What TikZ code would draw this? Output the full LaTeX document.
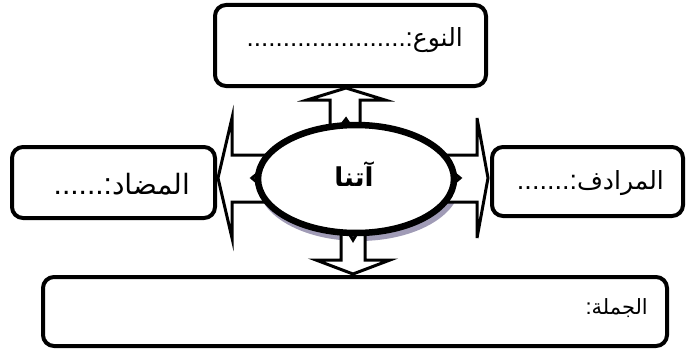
\documentclass[tikz,border=0pt]{standalone}
\usepackage{fontspec}
\usetikzlibrary{shapes.geometric}
\TeXXeTstate=1
\newfontfamily\arabicfont[Script=Arabic]{DejaVu Sans}
\newfontfamily\dotsfont{Liberation Sans}
\newcommand{\ardots}[2]{{\dotsfont\fontsize{#1}{30}\selectfont #2}}
\definecolor{shadowc}{RGB}{160,155,182}
\begin{document}
\begin{tikzpicture}[x=1pt,y=-1pt,
  box/.style={draw,rectangle,line width=4pt,rounded corners=11pt,fill=white,inner sep=0pt},
  blockarrow/.style={draw,line width=3pt,fill=white,line join=miter},
  lbl/.style={inner sep=0pt,anchor=east,font=\arabicfont\fontsize{25}{30}\selectfont},
  biglbl/.style={lbl,font=\arabicfont\fontsize{28}{32}\selectfont},
  smalllbl/.style={lbl,font=\arabicfont\fontsize{21}{26}\selectfont}]
\useasboundingbox (0,0) rectangle (687,353);
% shadow of the ellipse
\fill[shadowc] (359,184) ellipse [x radius=101, y radius=57];
% block arrows
\draw[blockarrow] (346,88) -- (385,100) -- (360,100) -- (360,140) -- (346,119) -- (330,140) -- (330,100) -- (307,100) -- cycle;
\draw[blockarrow] (353,274) -- (316,260) -- (341,260) -- (341,220) -- (353,240) -- (365,220) -- (365,260) -- (390,260) -- cycle;
\draw[blockarrow] (218,178) -- (232,118) -- (232,155) -- (280,155) -- (252,178) -- (280,202) -- (232,202) -- (232,238) -- cycle;
\draw[blockarrow] (488,178) -- (477,118) -- (477,155) -- (432,155) -- (460,178) -- (432,202) -- (477,202) -- (477,238) -- cycle;
% ellipse
\node[ellipse,draw,line width=6.5pt,fill=white,inner sep=0pt,minimum width=196pt,minimum height=108pt] (center) at (356,179) {};
\node[inner sep=0pt,font=\arabicfont\bfseries\fontsize{26}{30}\selectfont] (word) at (354,174) {\beginR آتنا\endR};
% boxes
\node[box,minimum width=271pt,minimum height=81pt] (type) at (350.5,45.5) {};
\node[box,minimum width=203pt,minimum height=71pt] (anto) at (113.5,182.5) {};
\node[box,minimum width=191pt,minimum height=69pt] (syn) at (587.5,181.5) {};
\node[box,minimum width=624pt,minimum height=69pt] (sent) at (355,311.5) {};
% texts
\node[lbl] (typet) at (463,40) {\ardots{26}{......................:}\beginR النوع\endR};
\node[biglbl] (antot) at (190,184) {\ardots{30}{......:}\beginR المضاد\endR};
\node[lbl] (synt) at (664,183) {\ardots{27}{.......:}\beginR المرادف\endR};
\node[smalllbl] (sentt) at (648,308) {\ardots{22}{:}\beginR الجملة\endR};
\end{tikzpicture}
\end{document}
